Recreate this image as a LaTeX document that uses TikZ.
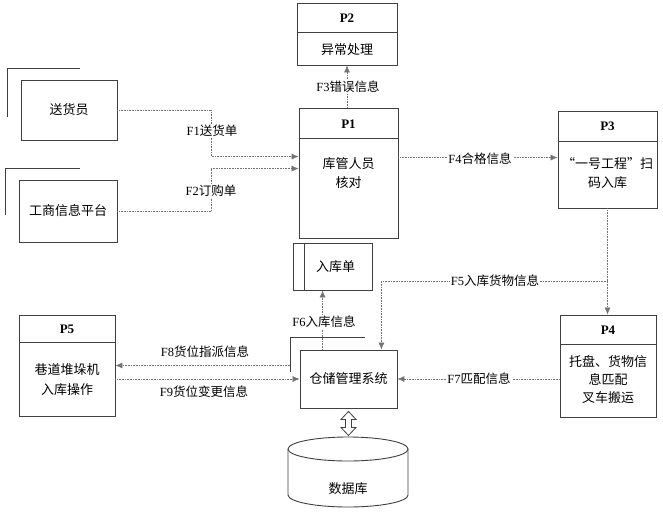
\documentclass[tikz,border=0pt]{standalone}
\usepackage{fontspec}
\setmainfont{Liberation Serif}
\newfontfamily\cjk{Noto Sans CJK SC}
\usetikzlibrary{arrows.meta}
\begin{document}
\begin{tikzpicture}[x=1pt,y=-1pt,
 box/.style={draw=black!75, line width=0.9pt, inner sep=0pt, fill=white},
 edge/.style={draw=black!75, line width=0.9pt},
 flow/.style={draw=black!55, line width=0.6pt, densely dotted},
 arr/.style={-{Latex[length=7pt,width=6pt]}},
 lbl/.style={font=\fontsize{12.5}{14}\selectfont, inner sep=1pt, fill=white},
 txt/.style={font=\fontsize{13}{19}\selectfont\cjk, align=center},
 ptitle/.style={font=\fontsize{13}{15}\selectfont\bfseries},
]
\useasboundingbox (0,0) rectangle (663,511);

% external entities
\draw[edge] (7,117) -- (7,68) -- (80,68);
\node[box, txt, minimum width=96pt, minimum height=60pt] (sh) at (69,110) {送货员};
\draw[edge] (5,215) -- (5,168) -- (80,168);
\node[box, txt, minimum width=98pt, minimum height=62pt] (gs) at (68,211) {工商信息平台};

% P1
\node[box, minimum width=99pt, minimum height=130pt] (p1) at (348.5,173) {};
\draw[edge] ([yshift=-31pt]p1.north west) -- ([yshift=-31pt]p1.north east);
\node[ptitle] (p1h) at (348.5,124) {P1};
\node[txt] (p1b) at (348.5,173) {库管人员\\核对};

% P2
\node[box, minimum width=100pt, minimum height=62pt] (p2) at (347,34) {};
\draw[edge] ([yshift=-30pt]p2.north west) -- ([yshift=-30pt]p2.north east);
\node[ptitle] (p2h) at (347,18) {P2};
\node[txt] (p2b) at (347,50) {异常处理};

% P3
\node[box, minimum width=99pt, minimum height=97pt] (p3) at (607.5,159.5) {};
\draw[edge] ([yshift=-31pt]p3.north west) -- ([yshift=-31pt]p3.north east);
\node[ptitle] (p3h) at (607.5,126) {P3};
\node[txt] (p3b) at (607.5,173.5) {“一号工程”扫\\码入库};

% P4
\node[box, minimum width=96pt, minimum height=102pt] (p4) at (608,366) {};
\draw[edge] ([yshift=-30pt]p4.north west) -- ([yshift=-30pt]p4.north east);
\node[ptitle] (p4h) at (608,330) {P4};
\node[txt, font=\fontsize{13}{18}\selectfont\cjk] (p4b) at (608,380) {托盘、货物信\\息匹配\\叉车搬运};

% P5
\node[box, minimum width=96pt, minimum height=101pt] (p5) at (67,365.5) {};
\draw[edge] ([yshift=-28pt]p5.north west) -- ([yshift=-28pt]p5.north east);
\node[ptitle] (p5h) at (67,329) {P5};
\node[txt, font=\fontsize{13}{20}\selectfont\cjk] (p5b) at (67,380) {巷道堆垛机\\入库操作};

% data store
\node[box, txt, minimum width=79pt, minimum height=47pt, text width=60pt] (rk) at (332.5,266.5) {\hspace*{6pt}入库单};
\draw[edge] ([xshift=12pt]rk.north west) -- ([xshift=12pt]rk.south west);

% warehouse system
\draw[edge] (290,372) -- (290,337) -- (365,337);
\node[box, txt, minimum width=97pt, minimum height=58pt] (cc) at (348.5,379) {仓储管理系统};
\coordinate (ccb) at (290,365.5);

% database cylinder
\draw[edge, fill=white] (288,449) -- (288,495) arc[start angle=180, end angle=360, x radius=60pt, y radius=12pt] -- (408,449);
\draw[edge, fill=white] (348,449) ellipse [x radius=60pt, y radius=12pt];
\node[txt] (db) at (348,489) {数据库};

% hollow double arrow between system and database
\draw[edge, line width=0.8pt, fill=white] ([yshift=-3pt]cc.south) -- ++(7.5,8) -- ++(-4.5,0) -- ++(0,8) -- ++(4.5,0) -- ++(-7.5,8) -- ++(-7.5,-8) -- ++(4.5,0) -- ++(0,-8) -- ++(-4.5,0) -- cycle;

% flows
\draw[flow,arr] (sh.east) -- ++(94,0) |- ([yshift=-49pt]p1.north west);
\draw[flow,arr] (gs.east) -- ++(94,0) |- ([yshift=-61pt]p1.north west);
\draw[flow,arr] (p1.north -| p2.south) -- (p2.south);
\draw[flow,arr] ([yshift=-50pt]p1.north east) -- ([yshift=-50pt]p1.north east -| p3.west);
\draw[flow,arr] (p3.south) -- (p3.south |- p4.north);
\coordinate (j5) at (p3.south |- 0,281);
\draw[flow,arr] (j5) -| ([xshift=-16pt]cc.north east);
\draw[flow,arr] ([xshift=23pt]cc.north west) -- ([xshift=23pt]cc.north west |- rk.south);
\draw[flow,arr] (p4.west |- cc.east) -- (cc.east);
\draw[flow,arr] (ccb) -- (ccb -| p5.east);
\draw[flow,arr] (p5.east |- cc.west) -- (cc.west);

% labels
\node[lbl] (l1) at (212,131) {F1{\cjk 送货单}};
\node[lbl] (l2) at (211,191) {F2{\cjk 订购单}};
\node[lbl] (l3) at (348,87) {F3{\cjk 错误信息}};
\node[lbl] (l4) at (480,159) {F4{\cjk 合格信息}};
\node[lbl] (l5) at (495,281) {F5{\cjk 入库货物信息}};
\node[lbl] (l6) at (324,322) {F6{\cjk 入库信息}};
\node[lbl] (l7) at (479,379) {F7{\cjk 匹配信息}};
\node[lbl] (l8) at (205,352) {F8{\cjk 货位指派信息}};
\node[lbl] (l9) at (204,392) {F9{\cjk 货位变更信息}};
\end{tikzpicture}
\end{document}
